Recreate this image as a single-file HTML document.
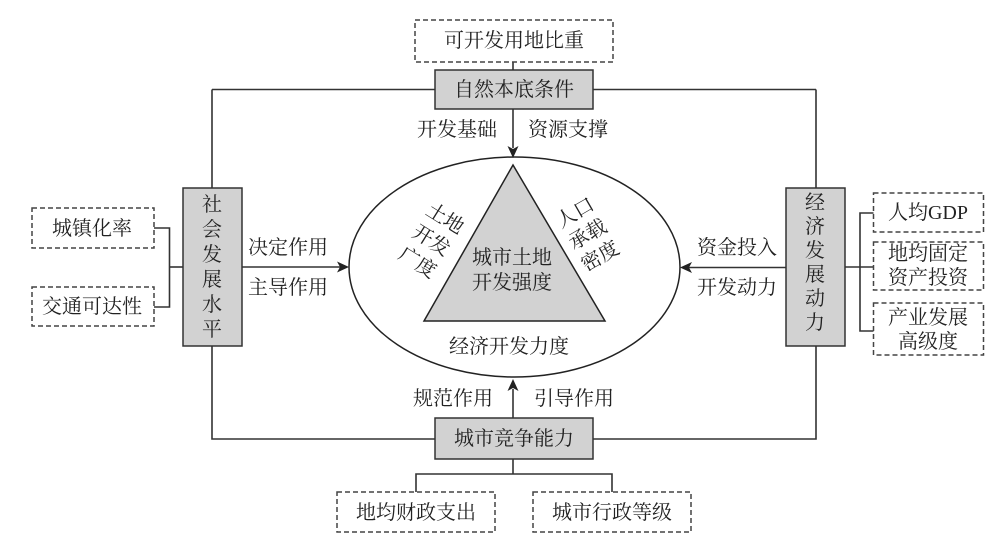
<!DOCTYPE html>
<html>
<head>
<meta charset="utf-8">
<style>
  html,body{margin:0;padding:0;background:#fff;}
  svg{display:block;}
  text{font-family:"Liberation Serif","Noto Serif CJK SC","Noto Sans CJK SC",serif;fill:#222;font-size:20px;}
</style>
</head>
<body>
<svg width="1000" height="551" viewBox="0 0 1000 551" xmlns="http://www.w3.org/2000/svg">
  <!-- frame lines -->
  <g stroke="#333" stroke-width="1.6" fill="none">
    <polyline points="212,89.5 816,89.5"/>
    <polyline points="212,89.5 212,439 816,439 816,89.5"/>
    <!-- top stem -->
    <line x1="513" y1="62" x2="513" y2="70"/>
    <!-- arrow down shaft -->
    <line x1="513" y1="109" x2="513" y2="148"/>
    <!-- arrow up shaft -->
    <line x1="513" y1="418" x2="513" y2="389"/>
    <!-- left arrow shaft -->
    <line x1="242" y1="267" x2="340" y2="267"/>
    <!-- right arrow shaft -->
    <line x1="786" y1="267.5" x2="689" y2="267.5"/>
    <!-- left connectors -->
    <polyline points="154,228 169.5,228 169.5,307 154,307"/>
    <line x1="169.5" y1="267" x2="183" y2="267"/>
    <!-- right connectors -->
    <line x1="845" y1="267" x2="874" y2="267"/>
    <polyline points="874,213 860,213 860,331 874,331"/>
    <!-- bottom connectors -->
    <line x1="513" y1="459" x2="513" y2="474"/>
    <polyline points="416,492 416,474 612,474 612,492"/>
  </g>

  <!-- ellipse -->
  <ellipse cx="514.5" cy="267" rx="165.5" ry="110" fill="none" stroke="#222" stroke-width="1.5"/>

  <!-- triangle -->
  <polygon points="513,165 424,321 605,321" fill="#d2d2d2" stroke="#222" stroke-width="1.5"/>

  <!-- arrowheads -->
  <g fill="#222">
    <path d="M513,158 L507.5,146 L513,149 L518.5,146 Z"/>
    <path d="M513,379 L507.5,391 L513,388 L518.5,391 Z"/>
    <path d="M349,267 L337,261.5 L340,267 L337,272.5 Z"/>
    <path d="M680,267.5 L692,262 L689,267.5 L692,273 Z"/>
  </g>

  <!-- gray boxes -->
  <g fill="#d2d2d2" stroke="#333" stroke-width="1.5">
    <rect x="435" y="70" width="158" height="39"/>
    <rect x="435" y="418" width="158" height="41"/>
    <rect x="183" y="188" width="59" height="158"/>
    <rect x="786" y="188" width="59" height="158"/>
  </g>

  <!-- dashed boxes -->
  <g fill="#fff" stroke="#444" stroke-width="1.5" stroke-dasharray="5,3">
    <rect x="415" y="20" width="198" height="42"/>
    <rect x="32" y="208" width="122" height="40"/>
    <rect x="32" y="287" width="122" height="39"/>
    <rect x="873.5" y="193" width="110" height="39"/>
    <rect x="873.5" y="242" width="110" height="48"/>
    <rect x="873.5" y="303" width="110" height="52"/>
    <rect x="337" y="492" width="158" height="40"/>
    <rect x="533" y="492" width="158" height="40"/>
  </g>

  <!-- texts -->
  <g text-anchor="middle" dominant-baseline="central">
    <text x="514" y="41">可开发用地比重</text>
    <text x="514" y="90">自然本底条件</text>
    <text x="457" y="130">开发基础</text>
    <text x="568" y="130">资源支撑</text>

    <text x="92" y="229">城镇化率</text>
    <text x="92" y="307">交通可达性</text>

    <text x="212" y="205">社</text>
    <text x="212" y="230">会</text>
    <text x="212" y="255">发</text>
    <text x="212" y="280">展</text>
    <text x="212" y="305">水</text>
    <text x="212" y="330">平</text>

    <text x="288" y="248">决定作用</text>
    <text x="288" y="288">主导作用</text>

    <text x="815" y="203">经</text>
    <text x="815" y="227">济</text>
    <text x="815" y="251">发</text>
    <text x="815" y="275">展</text>
    <text x="815" y="299">动</text>
    <text x="815" y="323">力</text>

    <text x="737" y="248">资金投入</text>
    <text x="737" y="288">开发动力</text>

    <text x="928" y="213">人均GDP</text>
    <text x="928" y="254">地均固定</text>
    <text x="928" y="278">资产投资</text>
    <text x="928" y="318">产业发展</text>
    <text x="928" y="342">高级度</text>

    <text x="512" y="258">城市土地</text>
    <text x="512" y="283">开发强度</text>
    <text x="509" y="347">经济开发力度</text>

    <text x="453" y="399">规范作用</text>
    <text x="574" y="399">引导作用</text>
    <text x="514" y="439">城市竞争能力</text>
    <text x="416" y="513">地均财政支出</text>
    <text x="612" y="513">城市行政等级</text>
  </g>

  <!-- rotated labels -->
  <g transform="translate(431,241) rotate(32)" text-anchor="middle" dominant-baseline="central">
    <text x="0" y="-26">土地</text>
    <text x="0" y="0">开发</text>
    <text x="0" y="26">广度</text>
  </g>
  <g transform="translate(588,235) rotate(-30)" text-anchor="middle" dominant-baseline="central">
    <text x="0" y="-25">人口</text>
    <text x="0" y="0">承载</text>
    <text x="0" y="25">密度</text>
  </g>
</svg>
</body>
</html>
